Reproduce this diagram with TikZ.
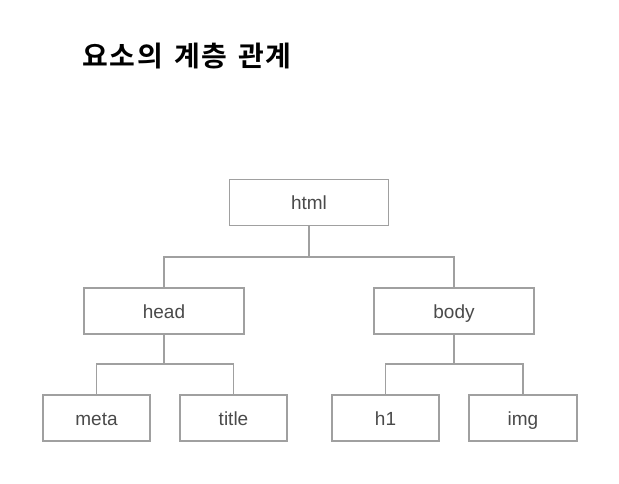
\documentclass[tikz,border=0pt]{standalone}
\usepackage{fontspec}
\setmainfont{Liberation Sans}
\newfontfamily\kofont{Noto Sans CJK KR}[BoldFont={* Bold},LetterSpace=6]
\definecolor{boxline}{HTML}{A0A0A0}
\definecolor{boxtext}{HTML}{4A4A4A}
\begin{document}
\begin{tikzpicture}[x=1pt,y=-1pt,
  elbox/.style={draw=boxline,line width=1.4pt,fill=white,text=boxtext,
    minimum width=#1,minimum height=46pt,inner sep=0pt,
    text height=16pt,text depth=2pt,
    font=\fontsize{19}{21}\selectfont},
  conn/.style={draw=boxline,line width=1.4pt}]
\useasboundingbox[fill=white] (0,0) rectangle (619,484);
\node[anchor=west,font=\kofont\bfseries\fontsize{28}{30}\selectfont] (title) at (79,56) {요소의\hspace{3pt} 계층\hspace{3pt} 관계};
\node[elbox=159pt] (html) at (309,202.5) {html};
\node[elbox=160pt] (head) at (164,311) {head};
\node[elbox=160pt] (body) at (454,311) {body};
\node[elbox=107pt] (meta) at (96.5,418) {meta};
\node[elbox=107pt] (ttl) at (233.5,418) {title};
\node[elbox=107pt] (h1) at (385.5,418) {h1};
\node[elbox=108pt] (img) at (523,418) {img};
\coordinate (j0) at (309,257);
\coordinate (j1) at (164,364);
\coordinate (j2) at (454,364);
\draw[conn] (html.south) -- (j0);
\draw[conn] (head.north) |- (j0) -| (body.north);
\draw[conn] (head.south) -- (j1);
\draw[conn] (meta.north) |- (j1) -| (ttl.north);
\draw[conn] (body.south) -- (j2);
\draw[conn] (h1.north) |- (j2) -| (img.north);
\end{tikzpicture}
\end{document}
